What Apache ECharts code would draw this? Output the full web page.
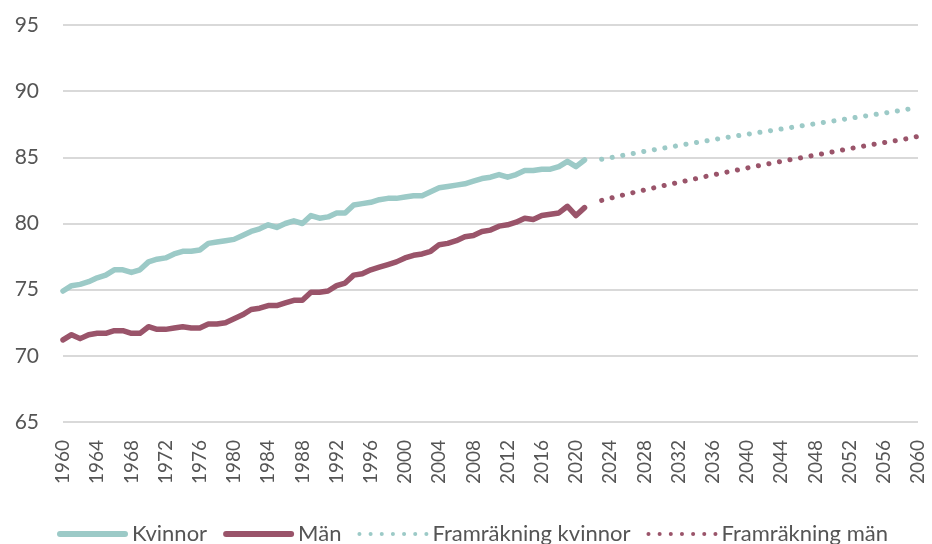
<!DOCTYPE html>
<html>
<head>
<meta charset="utf-8">
<script src="https://cdn.jsdelivr.net/npm/echarts@6/dist/echarts.min.js"></script>
<style>
  html, body { margin: 0; padding: 0; background: #fff; }
  #chart { width: 932px; height: 544px; }
</style>
</head>
<body>
<div id="chart"></div>
<script>
// Medellivslängd vid födseln, 1960–2021, samt framräkning 2023–2060
const histStart = 1960
const kvinnor = [
  74.9, 75.3, 75.4, 75.6, 75.9, 76.1, 76.5, 76.5, 76.3, 76.5,
  77.1, 77.3, 77.4, 77.7, 77.9, 77.9, 78.0, 78.5, 78.6, 78.7,
  78.8, 79.1, 79.4, 79.6, 79.9, 79.7, 80.0, 80.2, 80.0, 80.6,
  80.4, 80.5, 80.8, 80.8, 81.4, 81.5, 81.6, 81.8, 81.9, 81.9,
  82.0, 82.1, 82.1, 82.4, 82.7, 82.8, 82.9, 83.0, 83.2, 83.4,
  83.5, 83.7, 83.5, 83.7, 84.0, 84.0, 84.1, 84.1, 84.3, 84.7,
  84.3, 84.8
]
const man = [
  71.2, 71.6, 71.3, 71.6, 71.7, 71.7, 71.9, 71.9, 71.7, 71.7,
  72.2, 72.0, 72.0, 72.1, 72.2, 72.1, 72.1, 72.4, 72.4, 72.5,
  72.8, 73.1, 73.5, 73.6, 73.8, 73.8, 74.0, 74.2, 74.2, 74.8,
  74.8, 74.9, 75.3, 75.5, 76.1, 76.2, 76.5, 76.7, 76.9, 77.1,
  77.4, 77.6, 77.7, 77.9, 78.4, 78.5, 78.7, 79.0, 79.1, 79.4,
  79.5, 79.8, 79.9, 80.1, 80.4, 80.3, 80.6, 80.7, 80.8, 81.3,
  80.6, 81.2
]
const projStart = 2023
const framKvinnor = [
  84.85, 84.97, 85.09, 85.21, 85.33, 85.45, 85.56, 85.67, 85.78, 85.89,
  86.00, 86.11, 86.22, 86.33, 86.44, 86.54, 86.64, 86.74, 86.84, 86.94,
  87.04, 87.14, 87.24, 87.34, 87.44, 87.54, 87.64, 87.74, 87.84, 87.94,
  88.04, 88.14, 88.24, 88.34, 88.44, 88.55, 88.66, 88.80
]
const framMan = [
  81.75, 81.91, 82.07, 82.23, 82.38, 82.53, 82.68, 82.83, 82.97, 83.11,
  83.25, 83.39, 83.53, 83.67, 83.80, 83.93, 84.06, 84.19, 84.32, 84.45,
  84.57, 84.69, 84.81, 84.93, 85.05, 85.17, 85.29, 85.41, 85.53, 85.65,
  85.77, 85.89, 86.00, 86.11, 86.22, 86.33, 86.44, 86.58
]

const TEAL   = '#9ccac7'
const MAROON = '#9a546a'
const FONT   = 'Lato'
const TEXT   = '#555555'

// legendikoner: heldragen stapel resp. sju prickar
const ICON_SOLID  = 'path://M3,0 L68,0 A3,3 0 0,1 68,6 L3,6 A3,3 0 0,1 3,0 Z'
const ICON_DOTTED = 'path://' + [0, 1, 2, 3, 4, 5, 6]
  .map(i => `M${i * 11},2 a2,2 0 1,0 4,0 a2,2 0 1,0 -4,0`).join(' ')

const pairs = (start, vals) => vals.map((v, i) => [start + i, v])

const solid  = (name, color, vals, start) => ({
  name, type: 'line', data: pairs(start, vals), symbol: 'none',
  lineStyle: { color, width: 5.5, cap: 'round', join: 'round' }, itemStyle: { color },
})
const dotted = (name, color, vals, start) => ({
  name, type: 'line', data: pairs(start, vals), symbol: 'none',
  lineStyle: { color, width: 5, type: [0.1, 10.6], cap: 'round' }, itemStyle: { color },
})

const chart = echarts.init(document.getElementById('chart'), null, { renderer: 'canvas' })
chart.setOption({
  animation: false,
  textStyle: { fontFamily: FONT },
  grid: { left: 63, right: 14, top: 25, bottom: 122 },
  legend: {
    bottom: -6, left: 52, itemWidth: 71, itemHeight: 6, itemGap: 16,
    textStyle: { fontSize: 22, color: TEXT, fontFamily: FONT, padding: [0, 0, 0, -1] },
    itemStyle: { borderWidth: 0 },
    data: [
      { name: 'Kvinnor', icon: ICON_SOLID },
      { name: 'Män', icon: ICON_SOLID },
      { name: 'Framräkning kvinnor', icon: ICON_DOTTED },
      { name: 'Framräkning män', icon: ICON_DOTTED },
    ],
  },
  xAxis: {
    type: 'value', min: 1960, max: 2060, interval: 4,
    axisLine: { show: false }, axisTick: { show: false }, splitLine: { show: false },
    axisLabel: { rotate: 90, fontSize: 19, color: TEXT, margin: 18, formatter: v => String(v) },
  },
  yAxis: {
    type: 'value', min: 65, max: 95, interval: 5,
    axisLine: { show: false }, axisTick: { show: false },
    splitLine: { lineStyle: { color: '#d9d9d9', width: 2 } },
    axisLabel: { fontSize: 21, color: TEXT, margin: 24 },
  },
  series: [
    solid('Kvinnor', TEAL, kvinnor, histStart),
    solid('Män', MAROON, man, histStart),
    dotted('Framräkning kvinnor', TEAL, framKvinnor, projStart),
    dotted('Framräkning män', MAROON, framMan, projStart),
  ],
})
</script>
</body>
</html>
